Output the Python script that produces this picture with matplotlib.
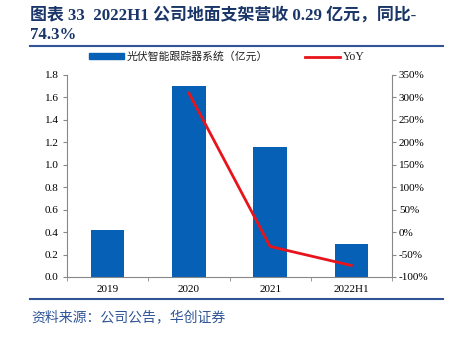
import matplotlib
matplotlib.use("Agg")
import matplotlib.pyplot as plt
from matplotlib.lines import Line2D
from matplotlib.patches import Patch

categories = ["2019", "2020", "2021", "2022H1"]
revenue = [0.42, 1.70, 1.16, 0.29]
yoy = [None, 310.0, -32.0, -74.3]

left_ticks = [0.0, 0.2, 0.4, 0.6, 0.8, 1.0, 1.2, 1.4, 1.6, 1.8]
right_ticks = [-100, -50, 0, 50, 100, 150, 200, 250, 300, 350]

title_line1 = "图表 33  2022H1 公司地面支架营收 0.29 亿元，同比-"
title_line2 = "74.3%"
bar_label = "光伏智能跟踪器系统（亿元）"
line_label = "YoY"
source = "资料来源：公司公告，华创证券"

BAR = "#0560B6"
RED = "#E8141B"
TITLE = "#1A3668"
RULE = "#2F5597"
AXIS = "#888888"

serif = ["Liberation Serif", "Noto Sans CJK SC", "DejaVu Serif"]
cjk = ["Noto Sans CJK SC", "Liberation Serif", "DejaVu Sans"]
plt.rcParams["font.family"] = serif

W, H = 450, 337
fig = plt.figure(figsize=(4.5, 3.37), dpi=100)
fig.patch.set_facecolor("white")

ax = fig.add_axes([67 / W, 1 - 277 / H, (392 - 67) / W, (277 - 75) / H])
x = list(range(len(categories)))
ax.bar(x, revenue, width=0.41, color=BAR, zorder=2)
ax.set_xlim(-0.5, len(categories) - 0.5)
ax.set_ylim(0, 1.8)
ax.set_yticks(left_ticks)
ax.set_yticklabels([f"{v:.1f}" for v in left_ticks], fontsize=8, family=serif)
ax.set_xticks(x)
ax.set_xticklabels(categories, fontsize=8, family=serif)
ax.tick_params(axis="x", length=0, pad=6)
ax.set_xticks([i + 0.5 for i in range(-1, len(categories))], minor=True)
ax.tick_params(axis="x", which="minor", length=3, color=AXIS, direction="out")
ax.tick_params(axis="y", length=3, color=AXIS, direction="out", pad=3)
for s in ["top", "right"]:
    ax.spines[s].set_visible(False)
ax.spines["left"].set_color(AXIS)
ax.spines["bottom"].set_color(AXIS)

ax2 = ax.twinx()
xs = [i for i, v in enumerate(yoy) if v is not None]
ys = [v for v in yoy if v is not None]
ax2.plot(xs, ys, color=RED, linewidth=2, zorder=3)
ax2.set_ylim(-100, 350)
ax2.set_yticks(right_ticks)
ax2.set_yticklabels([f"{v}%" for v in right_ticks], fontsize=8, family=serif)
ax2.tick_params(axis="y", length=3, color=AXIS, direction="out", pad=2)
for s in ["top", "left", "bottom"]:
    ax2.spines[s].set_visible(False)
ax2.spines["right"].set_color(AXIS)

# legend
handles = [Patch(facecolor=BAR, edgecolor=BAR), Line2D([0], [0], color=RED, lw=2)]
leg = fig.legend(handles, [bar_label, line_label], loc="center",
                 bbox_to_anchor=(227 / W, 1 - 57 / H), ncol=2, frameon=False,
                 handlelength=3.2, handleheight=0.45, columnspacing=3.4,
                 handletextpad=0.3, prop={"family": cjk, "size": 7.8})
for t in leg.get_texts():
    t.set_color("#222222")
leg.get_texts()[1].set_family(serif)
leg.get_texts()[1].set_fontsize(8.5)

# title
fig.text(30 / W, 1 - 15 / H, title_line1, fontsize=12.2, fontweight="bold",
         color=TITLE, family=serif, va="center", ha="left")
fig.text(30 / W, 1 - 35 / H, title_line2, fontsize=12.2, fontweight="bold",
         color=TITLE, family=serif, va="center", ha="left")

# rules
fig.add_artist(Line2D([30 / W, 443 / W], [1 - 46 / H, 1 - 46 / H], color=RULE, lw=1.5))
fig.add_artist(Line2D([30 / W, 443 / W], [1 - 299 / H, 1 - 299 / H], color=RULE, lw=1.5))

fig.text(31 / W, 1 - 317 / H, source, fontsize=10, style="italic",
         color=RULE, family=cjk, va="center", ha="left")

fig.savefig("out.png", dpi=100)
